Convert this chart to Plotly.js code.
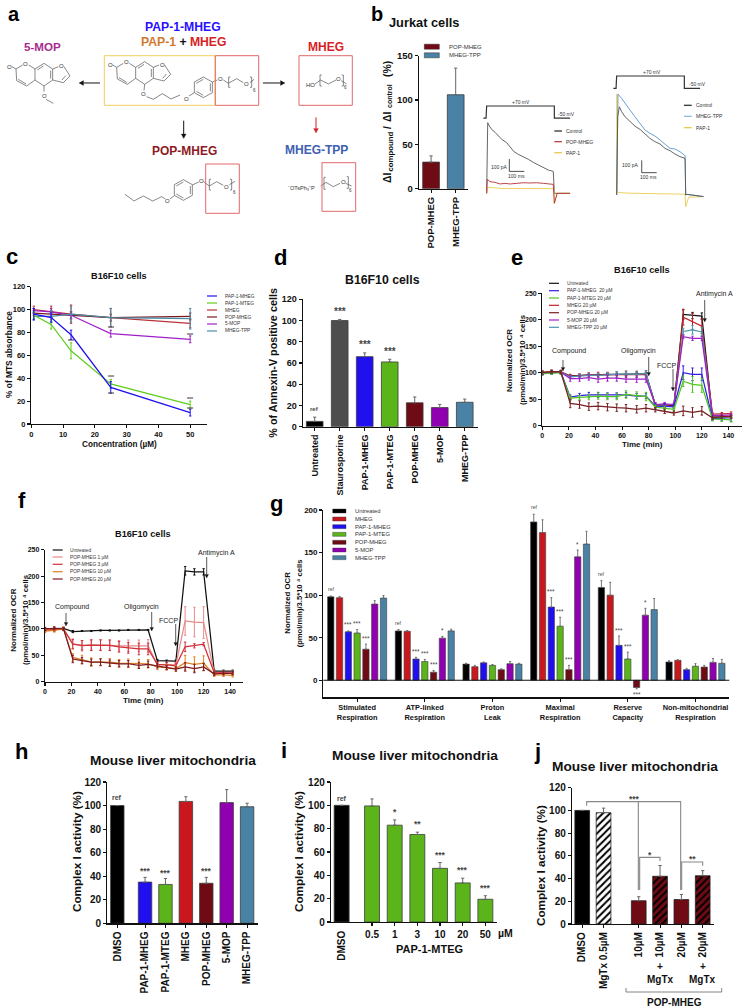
<!DOCTYPE html>
<html><head><meta charset="utf-8">
<script src="https://cdn.plot.ly/plotly-3.0.1.min.js"></script>
<style>html,body{margin:0;padding:0;background:#fff}#g{width:744px;height:1008px}</style>
</head><body><div id="g"></div>
<script>
// ---------- colours ----------
const BLACK='#000000',GREY='#4d4d4d',BLUE='#2010f0',GREEN='#5bb51a',RED='#c8181e',DARK='#6e0b14',PURPLE='#9000b0',TEAL='#4a82a5';
// ---------- b ----------
const bCats=['POP-MHEG','MHEG-TPP'],bVals=[30,106],bErr=[7,30];
const vT=[-22,-4,0,451,451,556],vMv=[-50,-50,70,70,-50,-50];
const lT=[0,7,18,33,56,78,100,133,156,182,211,244,278,311,344,378,411,444,451,470,556];
const lControl=[0,573,546,519,495,465,438,411,378,338,316,297,276,251,230,208,189,178,0,0,0];
const lPopT=[0,4,22,56,89,122,156,200,244,289,333,378,422,444,451,470,556];
const lPop=[0,114,95,89,76,81,76,81,86,84,86,81,78,73,-81,0,0];
const lPapT=[0,7,100,200,300,400,449,451,470,556];
const lPap=[0,49,40,40,42,40,38,-81,0,0];
const rT=[0,7,18,33,56,89,122,156,189,222,256,289,322,356,389,422,456,460,467,578];
const rControl=[0,635,716,676,635,595,559,532,495,459,432,414,378,359,332,311,297,0,5,-13];
const rTppT=[0,9,33,62,89,122,156,189,222,256,289,322,356,389,422,456,460,467,578];
const rTpp=[0,819,784,730,689,635,581,527,500,478,446,414,378,373,351,319,0,5,-13];
const rPapT=[0,2,5,100,200,300,400,456,460,480,578];
const rPap=[0,820,20,14,12,10,8,6,-95,-19,-13];
// ---------- c ----------
const cConc=[0.78,6.25,12.5,25,50];
const cNames=['PAP-1-MHEG','PAP-1-MTEG','MHEG','POP-MHEG','5-MOP','MHEG-TPP'];
const cMhegP=[96,93,78,32,10],cMteg=[95,87,64,35,17],cMheg=[100,98,96,93,88],cPop=[97,96,95,93,94],cMop=[99,98,95,79,74],cTpp=[94,94,96,93,92];
const cErrP=[5,4,4,5,3],cErrT=[3,4,7,4,3],cErrM=[3,5,8,8,4],cErrO=[2,3,3,3,3],cErr5=[2,3,3,3,3],cErrQ=[3,5,7,8,9];
// ---------- d ----------
const dCats=['Untreated','Staurosporine','PAP-1-MHEG','PAP-1-MTEG','POP-MHEG','5-MOP','MHEG-TPP'];
const dVals=[5,100,66,61,22.5,18,23],dErr=[4,1,3.5,2.5,5.5,3,3],dNotes=['ref','***','***','***','','',''];
// ---------- e / f ----------
const tMin=[0,7,14,21,28,35,42,49,56,63,71,78,85,92,99,106,113,120,128,135,142];
const eNames=['Untreated','PAP-1-MHEG  20 µM','PAP-1-MTEG 20 µM','MHEG 20 µM','POP-MHEG 20 µM','5-MOP 20 µM','MHEG-TPP 20 µM'];
const eUnt=[100,101,101,94,95,96,96,97,97,97,98,98,40,39,38,210,208,207,17,16,17];
const ePapM=[100,101,101,54,57,58,58,57,57,58,56,56,37,37,36,100,97,97,14,13,12];
const ePapT=[99,100,100,52,53,54,56,55,55,59,57,55,35,33,31,84,78,76,13,12,11];
const eMheg=[101,102,102,93,95,96,96,96,96,97,97,97,38,38,37,205,197,188,22,22,23];
const ePop=[100,102,101,42,40,36,37,35,34,33,31,33,30,27,24,28,25,28,15,17,17];
const eMop=[99,100,101,89,89,91,88,90,90,88,88,88,40,41,40,168,165,165,19,19,20];
const eTpp=[98,100,101,92,94,95,95,96,97,98,97,99,37,36,36,178,181,177,16,17,17];
const eErrU=[2,2,2,2,2,2,2,2,2,2,2,2,3,3,3,9,6,6,4,3,3];
const eErrPM=[3,3,3,4,4,5,5,5,5,5,5,5,4,4,4,13,12,12,4,4,4];
const eErrPT=[3,3,3,4,4,5,6,6,6,7,7,8,4,4,4,10,15,13,4,4,4];
const eErrM=[3,3,3,4,3,4,5,5,6,6,6,7,3,3,3,15,15,14,3,3,3];
const eErrO=[3,3,3,8,7,7,7,7,7,7,7,7,4,4,4,9,9,8,3,3,3];
const eErr5=[3,3,3,5,5,5,6,6,6,6,6,6,3,3,3,3,4,4,3,3,3];
const eErrQ=[3,3,3,3,3,4,4,4,5,5,5,5,3,3,3,6,8,8,3,3,3];
const fNames=['Untreated','POP-MHEG 1 µM','POP-MHEG 3 µM','POP-MHEG 10 µM','POP-MHEG 20 µM'];
const fUnt=[100,101,101,95,96,96,97,97,97,98,98,98,40,39,39,210,208,208,20,20,20];
const f1=[98,99,100,72,68,70,70,69,68,68,68,68,32,33,32,115,113,112,17,17,17];
const f3=[97,98,100,71,69,69,69,69,66,64,62,62,33,32,30,66,68,71,17,16,16];
const f10=[96,97,100,46,42,37,37,37,35,35,34,34,28,27,25,36,33,35,13,13,12];
const f20=[100,101,100,43,40,37,37,35,34,34,31,33,30,27,24,28,25,28,15,16,16];
const fErrU=[2,2,2,2,1,1,1,1,1,1,1,1,2,2,2,8,6,6,2,2,2];
const fErr1=[3,3,3,9,10,10,10,10,10,11,11,12,4,4,4,27,28,30,3,3,3];
const fErr3=[3,3,3,9,9,10,10,10,10,10,11,11,4,4,4,9,4,3,3,3,3];
const fErr10=[3,3,3,7,8,8,7,7,7,8,8,8,5,5,5,14,14,14,3,3,3];
const fErr20=[3,3,3,7,6,6,6,6,6,6,6,6,4,4,4,8,8,7,3,3,3];
// ---------- g ----------
const gCats=['Stimulated<br>Respiration','ATP-linked<br>Respiration','Proton<br>Leak','Maximal<br>Respiration','Reserve<br>Capacity','Non-mitochondrial<br>Respiration'];
const gNames=['Untreated','MHEG','PAP-1-MHEG','PAP-1-MTEG','POP-MHEG','5-MOP','MHEG-TPP'];
const gUnt=[98,58,19,186,109,21.5],gMheg=[97,57.5,16,173.5,100,23.5],gPapM=[57,25,20.5,86,41,12.5],gPapT=[55.5,22,17.5,63.5,25,16.5],gPop=[36.5,9.5,12.5,12.5,-8.5,15.5],gMop=[89.5,49.5,19.5,145,76.5,21],gTpp=[96.5,58,19,160,83,20];
const gErrU=[1,1.5,1,9,8,1.5],gErrM=[1.5,1,1.5,15,15,0.5],gErrPM=[1,2,1,11,11,1.5],gErrPT=[4,2.5,1,10.5,8,3],gErrO=[6,2,1,5,1.5,2],gErr5=[4,2,2.5,8,8,4.5],gErrQ=[3,2,1,15,13,4.5];
const gNoteU=['ref','ref','','ref','ref',''],gNotePM=['***','***','','***','***',''],gNotePT=['***','***','','***','***',''],gNoteO=['***','***','','***','***',''],gNote5=['','*','','*','*',''];
// ---------- h / i / j ----------
const hCats=['DMSO','PAP-1-MHEG','PAP-1-MTEG','MHEG','POP-MHEG','5-MOP','MHEG-TPP'];
const hVals=[100,35,33,103.5,34,102.5,99],hErr=[0,4,5,4,5,11,3],hNotes=['ref','***','***','','***','',''];
const iCats=['DMSO','0.5','1','3','10','20','50'];
const iVals=[100,99.5,83,75,46,33.5,19.5],iErr=[0,6,4.5,2,5,4,3],iNotes=['ref','','*','**','***','***','***'];
const jCats=['DMSO','MgTx 0.5µM','10µM','10µM','20µM','20µM'];
const jVals=[100,98,20.5,42,21.5,42.5],jErr=[0,4,3.5,9.5,4.5,4.5];

// ---------- helpers ----------
const W=744,H=1008,FONT='"Liberation Sans",Arial,sans-serif';
const OCR_UNIT='(pmol/min)/3.5*10 ⁴ cells';
const traces=[],shapes=[],annotations=[];
const layout={width:W,height:H,margin:{l:0,r:0,t:0,b:0,pad:0},paper_bgcolor:'#fff',plot_bgcolor:'rgba(0,0,0,0)',showlegend:false,barmode:'overlay',font:{family:FONT,color:'#111'},shapes,annotations};
let nAx=0;
const base={showgrid:false,zeroline:false,showline:true,linecolor:'#111',linewidth:1.2,ticks:'outside',ticklen:3,tickwidth:1.1,tickcolor:'#111',fixedrange:true};
function panel(x0,x1,yT,yB,xo,yo){
  const n=++nAx,s=n===1?'':n;
  layout['xaxis'+s]=Object.assign({},base,{domain:[x0/W,x1/W],anchor:'y'+s},xo);
  layout['yaxis'+s]=Object.assign({},base,{domain:[1-yB/H,1-yT/H],anchor:'x'+s},yo);
  return {x:'x'+s,y:'y'+s};
}
function tf(size){return {size,family:FONT,color:'#111',weight:'bold'}}
function note(x,y,text,o={}){
  annotations.push({xref:'paper',yref:'paper',x:x/W,y:1-y/H,text:o.bold===false?text:'<b>'+text+'</b>',showarrow:false,xanchor:o.xa||'center',yanchor:'middle',textangle:o.angle||0,font:{size:o.size||8,color:o.color||'#111',family:FONT},align:o.align||'center'});
}
function P(x,y){return (x/W).toFixed(5)+','+(1-y/H).toFixed(5)}
function poly(pts,color='#555',w=0.7,close=false,s=1){
  let d='M'+pts.map(p=>P(p[0]*s,p[1]*s)).join('L')+(close?'Z':'');
  shapes.push({type:'path',xref:'paper',yref:'paper',path:d,line:{color,width:w},fillcolor:'rgba(0,0,0,0)'});
}
function arrow(x0,y0,x1,y1,color='#111',w=1,hl=4.5,hw=2.4){
  const L=Math.hypot(x1-x0,y1-y0),ux=(x1-x0)/L,uy=(y1-y0)/L,bx=x1-ux*hl,by=y1-uy*hl;
  poly([[x0,y0],[bx,by]],color,w);
  shapes.push({type:'path',xref:'paper',yref:'paper',path:'M'+[[x1,y1],[bx-uy*hw,by+ux*hw],[bx+uy*hw,by-ux*hw]].map(p=>P(p[0],p[1])).join('L')+'Z',line:{color,width:0.3},fillcolor:color});
}
function rect(x0,y0,x1,y1,line,w=1,fill){
  shapes.push({type:'rect',xref:'paper',yref:'paper',x0:x0/W,x1:x1/W,y0:1-y0/H,y1:1-y1/H,line:{color:line,width:w},fillcolor:fill||'rgba(0,0,0,0)'});
}
function bars(pn,xs,ys,errs,colors,width,extra={}){
  traces.push(Object.assign({type:'bar',xaxis:pn.x,yaxis:pn.y,x:xs,y:ys,width,marker:{color:colors,line:{color:'#3c3c3c',width:0.8}},error_y:{type:'data',array:errs,symmetric:false,arrayminus:errs.map(()=>0),color:'#666',thickness:1,width:1.6}},extra));
}
function series(pn,xs,ys,errs,color,w=1.25){
  traces.push({type:'scatter',mode:'lines',xaxis:pn.x,yaxis:pn.y,x:xs,y:ys,line:{color,width:w},cliponaxis:false,error_y:{type:'data',array:errs,color,thickness:1,width:1.2}});
}
function stars(pn,x,y,text,shift=5,size=6){
  annotations.push({xref:pn.x,yref:pn.y,x,y,text:'<b>'+text+'</b>',showarrow:false,yanchor:'middle',xanchor:'center',yshift:shift,font:{size,color:'#444',family:FONT}});
}
function lineLegend(names,colors,x0,x1,tx,ys,size=4.8){
  names.forEach((n,i)=>{poly([[x0,ys[i]],[x1,ys[i]]],colors[i],1.2);note(tx,ys[i],n,{bold:false,size,xa:'left',color:'#333'})});
}
function ocrPanel(x0,x1,yT,yB,names,data,errs,colors){
  const pn=panel(x0,x1,yT,yB,{range:[0,150],tickvals:[0,20,40,60,80,100,120,140],tickfont:tf(7)},{range:[0,250],tickvals:[0,50,100,150,200,250],tickfont:tf(7)});
  data.forEach((d,i)=>series(pn,tMin,d,errs[i],colors[i]));
  return pn;
}

// ---------- panel a : schematic ----------
function coumarin(dx,dy){
  const t=p=>[p[0]+dx,p[1]+dy];
  const d=(pts,cl)=>poly(pts.map(t),'#555',0.7,cl,1/3);
  d([[48,207],[68,195]]);d([[86,195],[105,207],[105,240],[80,258],[50,242],[48,207]]);
  d([[105,207],[132,190],[158,207],[158,240],[132,258],[105,240]]);
  d([[158,207],[175,200]]);d([[192,200],[210,228],[190,248],[158,240]]);
  d([[55,238],[78,252]]);d([[112,210],[130,198]]);d([[152,212],[152,236]]);d([[197,227],[186,240]]);
  d([[36,200],[48,207]]);
}
function phenyl(cx,cy){
  poly([[cx-27,cy-16],[cx,cy-31],[cx+27,cy-16],[cx+27,cy+16],[cx,cy+31],[cx-27,cy+16]],'#555',0.7,true,1/3);
  poly([[cx-21,cy-12],[cx,cy-24]],'#555',0.7,false,1/3);poly([[cx+21,cy-12],[cx+21,cy+12]],'#555',0.7,false,1/3);poly([[cx-21,cy+12],[cx,cy+24]],'#555',0.7,false,1/3);
}
function peg(pts,b1,b2,labels){
  poly(pts,'#555',0.7,false,1/3);
  poly([[b1[0]+5,b1[1]],[b1[0],b1[1]],[b1[0],b1[2]],[b1[0]+5,b1[2]]],'#555',0.7,false,1/3);
  poly([[b2[0]-5,b2[1]],[b2[0],b2[1]],[b2[0],b2[2]],[b2[0]-5,b2[2]]],'#555',0.7,false,1/3);
  labels.forEach(l=>note(l[0]/3,l[1]/3,l[2],{bold:false,size:l[3]||6,color:'#333'}));
}
coumarin(0,0);
note(28/3,200/3,'O',{bold:false,size:6,color:'#333'});note(77/3,191/3,'O',{bold:false,size:6,color:'#333'});note(184/3,199/3,'O',{bold:false,size:6,color:'#333'});
poly([[132,258],[132,275]],'#555',0.7,false,1/3);poly([[138,298],[160,310]],'#555',0.7,false,1/3);note(132/3,288/3,'O',{bold:false,size:6,color:'#333'});
coumarin(302,-5);
note(330/3,195/3,'O',{bold:false,size:6,color:'#333'});note(379/3,186/3,'O',{bold:false,size:6,color:'#333'});note(486/3,194/3,'O',{bold:false,size:6,color:'#333'});
poly([[434,253],[432,272]],'#555',0.7,false,1/3);poly([[440,290],[460,298],[487,281],[513,297],[540,285]],'#555',0.7,false,1/3);poly([[567,288],[583,278]],'#555',0.7,false,1/3);
note(431/3,283/3,'O',{bold:false,size:6,color:'#333'});note(559/3,296/3,'O',{bold:false,size:6,color:'#333'});
phenyl(610,262);
poly([[637,246],[652,240]],'#555',0.7,false,1/3);
peg([[670,240],[685,250],[710,236],[730,248]],[686,231,262],[755,231,262],[[661,236,'O'],[740,253,'O'],[763,271,'6',4.5]]);
poly([[750,248],[762,238]],'#555',0.7,false,1/3);
peg([[945,252],[962,240],[985,252],[1008,240]],[960,225,258],[1030,225,258],[[932,254,'HO'],[1016,237,'O'],[1036,263,'6',4.5]]);
poly([[1024,242],[1040,252]],'#555',0.7,false,1/3);
poly([[375,583],[402,603],[430,588],[458,603],[485,590],[496,597]],'#555',0.7,false,1/3);poly([[510,597],[523,587]],'#555',0.7,false,1/3);
note(503/3,602/3,'O',{bold:false,size:6,color:'#333'});phenyl(550,570);poly([[577,555],[596,546]],'#555',0.7,false,1/3);
peg([[611,545],[628,558],[650,545],[670,556]],[628,538,570],[695,538,570],[[604,544,'O'],[680,560,'O'],[702,576,'6',4.5]]);poly([[688,554],[705,544]],'#555',0.7,false,1/3);
peg([[962,558],[978,547],[1000,560],[1020,550]],[972,532,568],[1045,530,565],[[905,563,'⁻OTsPh₃⁺P',5.6],[1030,546,'O'],[1051,572,'6',4.5]]);poly([[1037,550],[1055,558]],'#555',0.7,false,1/3);
rect(104.3,55.7,215,105.3,'#f0cf62',1);
[[215.3,55.7,258.7,105.3],[299,55.7,352.3,105.3],[205.7,164,239.3,213.3],[322,162.7,355.7,211.3]].forEach(r=>rect(r[0],r[1],r[2],r[3],'#e0686a',1));
arrow(100,83,79,83);arrow(263,83,285,83);arrow(183.7,120.7,183.7,138.5);arrow(316,117.3,316,133,'#d02028');
note(183,27,'PAP-1-MHEG',{size:12.2,color:'#2a10ff'});
note(183,42,'<span style="color:#d07a30">PAP-1</span> + <span style="color:#d81f26">MHEG</span>',{size:12.2});
note(42.5,46.7,'5-MOP',{size:11.6,color:'#a82a90'});note(326,46.7,'MHEG',{size:12,color:'#d81f26'});
note(184.5,151,'POP-MHEG',{size:12,color:'#8e1a1f'});note(316,150,'MHEG-TPP',{size:12,color:'#4060b0'});

// ---------- panel b ----------
const pb=panel(419,468,55.7,188.7,{type:'category',range:[-0.49,1.5],tickfont:tf(9.5),tickangle:-90,categoryarray:bCats,categoryorder:'array',linewidth:1.3},{range:[0,150],tickvals:[0,50,100,150],tickfont:tf(9.5),linewidth:1.3});
bars(pb,bCats,bVals,bErr,[DARK,TEAL],0.68);
note(423.5,22,'Jurkat cells',{size:12.8});
[[387,178,'ΔI',10.5],[389.5,152,'compound',7.8],[387,128,'/',10.5],[387,117,'ΔI',10.5],[389.5,96.5,'control',7],[387,69,'(%)',10.5]].forEach(a=>note(a[0],a[1],a[2],{size:a[3],angle:-90}));
[[DARK,bCats[0],46.7],[TEAL,bCats[1],55.3]].forEach(l=>{rect(424.3,l[2]-2.5,439.3,l[2]+2.5,'#333',0.5,l[0]);note(446.7,l[2],l[1],{bold:false,size:6,xa:'left',color:'#333'})});
const bhide={visible:false};
const pL=panel(470,580,90,210,Object.assign({range:[-111,622]},bhide),Object.assign({range:[-135,838]},bhide));
const pLv=panel(470,580,100,125,Object.assign({range:[-111,622]},bhide),Object.assign({range:[-117,129]},bhide));
const pR=panel(600,710,90,210,Object.assign({range:[-111,622]},bhide),Object.assign({range:[-122,852]},bhide));
const pRv=panel(600,710,70,95,Object.assign({range:[-111,622]},bhide),Object.assign({range:[-115,128.5]},bhide));
function tr(pn,x,y,c,w){traces.push({type:'scatter',mode:'lines',xaxis:pn.x,yaxis:pn.y,x,y,line:{color:c,width:w||0.8},cliponaxis:false});}
tr(pLv,vT,vMv,'#333',1.2);tr(pRv,vT,vMv,'#333',1.2);
tr(pL,lT,lControl,'#555',0.9);tr(pL,lPapT,lPap,'#e8c53a',0.8);tr(pL,lPopT,lPop,'#b5323a',0.9);
tr(pR,rPapT,rPap,'#e8c53a',0.8);tr(pR,rTppT,rTpp,'#6d9fd0',1);tr(pR,rT,rControl,'#555',0.9);
tr(pL,[151,151,251],[278,178,178],'#222',0.8);tr(pR,[167,167,267],[281,181,181],'#222',0.8);
lineLegend(['Control','POP-MHEG','PAP-1'],['#222','#b5323a','#e8c53a'],554.3,562,564,[131,141.7,152.7],5);
lineLegend(['Control','MHEG-TPP','PAP-1'],['#222','#80b8d8','#e8c53a'],684,691.7,694,[105.3,116.3,127.7],5);
[[499.3,166.7,'100 pA'],[516,176,'100 ms'],[630.7,165.3,'100 pA'],[648.3,177,'100 ms'],[521,102,'+70 mV'],[566.7,114,'-50 mV'],[651.7,71.7,'+70 mV'],[697.7,84,'-50 mV']].forEach(a=>note(a[0],a[1],a[2],{bold:false,size:5,color:'#333'}));

// ---------- panel c ----------
const pc=panel(31,206.7,286.7,424,{range:[-0.1,55.2],tickvals:[0,10,20,30,40,50],tickfont:tf(7.5)},{range:[0,120],tickvals:[0,20,40,60,80,100,120],tickfont:tf(7.5)});
const cColors=[BLUE,'#5fce20','#b8343a','#7a1a20','#a020c8','#4a8da5'];
series(pc,cConc,cMheg,cErrM,cColors[2]);series(pc,cConc,cPop,cErrO,cColors[3]);series(pc,cConc,cMop,cErr5,cColors[4]);series(pc,cConc,cTpp,cErrQ,cColors[5]);series(pc,cConc,cMteg,cErrT,cColors[1]);series(pc,cConc,cMhegP,cErrP,cColors[0]);
[[50,77.5],[50,22],[50,13],[25,41],[25,26.5],[12.5,72.6],[25,84]].forEach(s=>stars(pc,s[0],s[1],'***',0,5));
lineLegend(cNames,cColors,207,217,223,[296,303,310,317,324,331]);
note(119,276,'B16F10 cells',{size:9.2});note(119,444,'Concentration (µM)',{size:8.2});note(9,355,'% of MTS absorbance',{size:8.4,angle:-90});

// ---------- panel d ----------
const pd=panel(302.7,478,299.3,426.7,{type:'category',categoryorder:'array',categoryarray:dCats,range:[-0.48,6.53],tickangle:-90,tickfont:tf(9)},{range:[0,120],tickvals:[0,20,40,60,80,100,120],tickfont:tf(9)});
bars(pd,dCats,dVals,dErr,[BLACK,GREY,BLUE,GREEN,DARK,PURPLE,TEAL],0.667);
dNotes.forEach((t,i)=>{if(t)stars(pd,dCats[i],dVals[i]+dErr[i],t,8,t==='ref'?6:10)});
note(382,280,'B16F10 cells',{size:12.3});note(272.7,363,'% of Annexin-V positive cells',{size:10.8,angle:-90});

// ---------- panel e ----------
const eColors=['#111','#3020e0','#50c820','#c02028','#7a1f22','#a020c8','#4a98b0'];
const pe=ocrPanel(542.3,741.7,293.3,425.7,eNames,[eUnt,eMheg,eTpp,eMop,ePapM,ePapT,ePop],[eErrU,eErrM,eErrQ,eErr5,eErrPM,eErrPT,eErrO],['#111','#c02028','#4a98b0','#a020c8','#3020e0','#50c820','#7a1f22']);
lineLegend(eNames,eColors,549,559,565,[283.3,290.7,298,305.3,312.7,320,327.3]);
note(641.7,270,'B16F10 cells',{size:9.2});note(642,444,'Time (min)',{size:8});
note(509,360,'Normalized OCR',{size:8,angle:-90});note(522,360,OCR_UNIT,{size:7.8,angle:-90});
[[569,351,'Compound'],[638,351,'Oligomycin'],[666,365.7,'FCCP'],[714,294,'Antimycin A']].forEach(a=>note(a[0],a[1],a[2],{bold:false,size:7,color:'#222'}));
arrow(563,360,563,371,'#111',0.7,3.5,1.8);arrow(648.7,357,648.7,376,'#111',0.7,3.5,1.8);arrow(673,369,673,391,'#111',0.7,3.5,1.8);arrow(704.7,300,704.7,322,'#111',0.7,3.5,1.8);

// ---------- panel f ----------
const fColors=['#111','#e88a8a','#d0303a','#e0801f','#7b1a1f'];
const pf=ocrPanel(45,243.3,549.7,681.7,fNames,[fUnt,f1,f3,f10,f20],[fErrU,fErr1,fErr3,fErr10,fErr20],fColors);
lineLegend(fNames,fColors,52.7,62.7,67.7,[550,557,564.3,571.7,579]);
note(143,534,'B16F10 cells',{size:9.2});note(143.3,700,'Time (min)',{size:8});
note(12.7,620,'Normalized OCR',{size:8,angle:-90});note(25,620,OCR_UNIT,{size:7.8,angle:-90});
[[71.7,606.7,'Compound'],[141,606.7,'Oligomycin'],[168,620.7,'FCCP'],[216.7,552.7,'Antimycin A']].forEach(a=>note(a[0],a[1],a[2],{bold:false,size:7,color:'#222'}));
arrow(66,613,66,626,'#111',0.7,3.5,1.8);arrow(151.7,612,151.7,631,'#111',0.7,3.5,1.8);arrow(175.7,624,175.7,646,'#111',0.7,3.5,1.8);arrow(206.7,557,206.7,578,'#111',0.7,3.5,1.8);

// ---------- panel g ----------
const pg=panel(323.3,729.3,510,697.3,{type:'category',categoryorder:'array',categoryarray:gCats,range:[-0.5,5.5],tickfont:tf(7.4),zeroline:false},{range:[-20,200],tickvals:[0,50,100,150,200],tickfont:tf(8)});
const gColors=[BLACK,RED,BLUE,GREEN,DARK,PURPLE,TEAL];
const gData=[gUnt,gMheg,gPapM,gPapT,gPop,gMop,gTpp],gErrs=[gErrU,gErrM,gErrPM,gErrPT,gErrO,gErr5,gErrQ];
const gStep=0.13,gW=0.093;
gData.forEach((d,i)=>{
  const errs=gErrs[i];
  traces.push({type:'bar',xaxis:pg.x,yaxis:pg.y,x:gCats,y:d,width:gW,offset:(i-3)*gStep-gW/2,marker:{color:gColors[i],line:{color:'#3c3c3c',width:0.6}},error_y:{type:'data',array:d.map((v,k)=>v>=0?errs[k]:0),arrayminus:d.map((v,k)=>v<0?errs[k]:0),symmetric:false,color:'#666',thickness:0.9,width:1}});
});
shapes.push({type:'line',xref:pg.x+' domain',yref:pg.y,x0:0,x1:1,y0:0,y1:0,line:{color:'#111',width:1.2},layer:'above'});
[[0,gNoteU],[2,gNotePM],[3,gNotePT],[4,gNoteO],[5,gNote5]].forEach(([si,notes])=>{
  notes.forEach((t,k)=>{ if(!t) return;
    const v=gData[si][k],e=gErrs[si][k];
    annotations.push({xref:pg.x,yref:pg.y,x:k+(si-3)*gStep,y:v>=0?v+e:v-e,text:t,showarrow:false,yanchor:'middle',yshift:v>=0?(t==='ref'?7:6):-6,font:{size:t==='ref'?5:6.3,color:'#444',family:FONT}});
  });
});
gNames.forEach((n,i)=>{const y=490+[63,87,110,133,157,180,203][i]/3;rect(332.7,y-2,346,y+2,'#333',0.4,gColors[i]);note(352.7,y,n,{bold:false,size:5.8,xa:'left',color:'#333'})});
note(286.7,603,'Normalized OCR',{size:7.8,angle:-90});note(299.3,603,OCR_UNIT,{size:7.6,angle:-90});

// ---------- panel h ----------
const hPos=hCats.map((c,i)=>i===0?0:i+0.36);
const ph=panel(107.3,257.7,782,923.3,{range:[-0.49,6.88],tickvals:hPos,ticktext:hCats,tickangle:-90,tickfont:tf(10)},{range:[0,120],tickvals:[0,20,40,60,80,100,120],tickfont:tf(10)});
bars(ph,hPos,hVals,hErr,[BLACK,BLUE,GREEN,RED,DARK,PURPLE,TEAL],0.66);
hNotes.forEach((t,i)=>{if(t)stars(ph,hPos[i],hVals[i]+hErr[i],t,t==='ref'?8:6,t==='ref'?7:8.5)});
note(173,760,'Mouse liver mitochondria',{size:13.7});note(76,852,'Complex I activity (%)',{size:11.7,angle:-90});

// ---------- panel i ----------
const iPos=iCats.map((c,i)=>i===0?0:i+0.34);
const pi=panel(331,496.7,782,922,{range:[-0.47,6.84],tickvals:iPos.slice(1),ticktext:iCats.slice(1),tickfont:tf(10),tickangle:0},{range:[0,120],tickvals:[0,20,40,60,80,100,120],tickfont:tf(10)});
bars(pi,iPos,iVals,iErr,[BLACK,GREEN,GREEN,GREEN,GREEN,GREEN,GREEN],0.66);
iNotes.forEach((t,i)=>{if(t)stars(pi,iPos[i],iVals[i]+iErr[i],t,t==='ref'?7:8,t==='ref'?7:8.5)});
note(415,755.7,'Mouse liver mitochondria',{size:13.7});note(298,852,'Complex I activity (%)',{size:11.7,angle:-90});
note(342,945.7,iCats[0],{size:10,angle:-90});note(506,933,'µM',{size:10.5});note(429,949,'PAP-1-MTEG',{size:11});

// ---------- panel j ----------
const jPos=[0,1,2.65,3.65,4.65,5.65],jPlain=[0,2,4],jHatched=[1,3,5];
const pj=panel(572,714,787.7,924,{range:[-0.48,6.18],tickvals:jPos,ticktext:jCats,tickangle:-90,tickfont:tf(10)},{range:[0,120],tickvals:[0,20,40,60,80,100,120],tickfont:tf(10)});
const jColors=[BLACK,'#ffffff',DARK,DARK,DARK,DARK];
[jPlain,jHatched].forEach((idx,g)=>{
  idx.forEach(i=>{
    const m={color:jColors[i],line:{color:'#222',width:0.8}};
    if(g===1)m.pattern={shape:'/',fillmode:'overlay',fgcolor:'#000000',bgcolor:jColors[i],fgopacity:1,size:5,solidity:0.4};
    traces.push({type:'bar',xaxis:pj.x,yaxis:pj.y,x:[jPos[i]],y:[jVals[i]],width:0.69,marker:m,
      error_y:{type:'data',array:[jErr[i]],arrayminus:[0],symmetric:false,color:'#666',thickness:1,width:1.6}});
  });
});
note(635,766.7,'Mouse liver mitochondria',{size:13.7});note(540,866,'Complex I activity (%)',{size:11.7,angle:-90});
const Z=(x,y)=>[490+x/3,735+y/3];
[[[290,212],[290,200],[572,200],[572,465]],[[445,200],[445,465]],[[449,465],[449,367],[510,367],[510,378]],[[575,465],[575,381],[638,381],[638,392]]].forEach(p=>poly(p.map(q=>Z(q[0],q[1])),'#888',1.1));
[[432,187,'***'],[481,353,'*'],[607,366,'**']].forEach(a=>{const z=Z(a[0],a[1]);note(z[0],z[1]+2,a[2],{size:8.5,color:'#444'})});
[660,702.7].forEach(x=>{note(x,966,'+',{size:10});note(x,979,'MgTx',{size:10})});
poly([[626,988],[626,992],[721.7,992],[721.7,988]],'#666',0.8);
note(674,1002,'POP-MHEG',{size:10});

// ---------- panel letters ----------
[['a',14,14,20],['b',377,14,20],['c',12,256,22],['d',280,257,22],['e',517,257,22],['f',22,500,22],['g',276,503,22],['h',21,751,22],['i',284,750,22],['j',537,751,22]].forEach(l=>note(l[1],l[2],l[0],{size:l[3],color:'#000'}));

Plotly.newPlot('g',traces,layout,{staticPlot:true,displayModeBar:false});
</script></body></html>
